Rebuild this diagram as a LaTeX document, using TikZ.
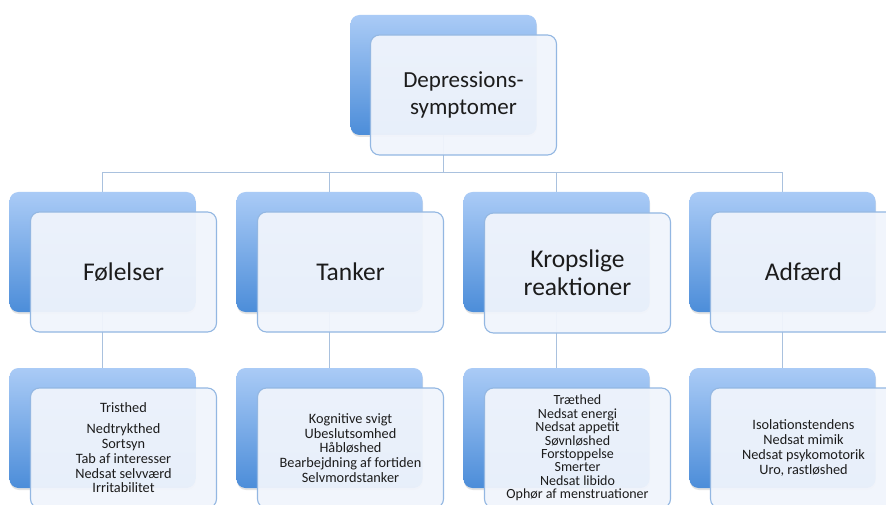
\documentclass[tikz,border=0pt]{standalone}
\usepackage{fontspec}
\setmainfont{Carlito}
\usetikzlibrary{shadows}
\definecolor{backtop}{HTML}{AACBF6}
\definecolor{backbot}{HTML}{4C8DD9}
\definecolor{frontfill}{HTML}{F1F5FC}
\definecolor{frontline}{HTML}{93B7E2}
\definecolor{connline}{HTML}{A9C1DE}
\definecolor{txt}{HTML}{1C1C1C}
\tikzset{
  backbox/.style={rounded corners=9pt, minimum width=186pt, minimum height=120pt,
    top color=backtop, bottom color=backbot, draw=none,
    drop shadow={opacity=0.22, shadow xshift=0.5pt, shadow yshift=-2pt}},
  frontbox/.style={rounded corners=9pt, minimum width=186pt, minimum height=120pt,
    draw=frontline, line width=1.1pt, fill=frontfill, fill opacity=0.94,
    text opacity=1, text=txt, align=center, inner sep=0pt},
  roottext/.style={font=\fontsize{23}{27}\selectfont},
  headtext/.style={font=\fontsize{25.5}{28}\selectfont},
  listtext/.style={font=\fontsize{14.3}{14.8}\selectfont},
  conn/.style={draw=connline, line width=1pt}
}
\begin{document}
\begin{tikzpicture}[x=1pt, y=-1pt]
  \useasboundingbox (0,0) rectangle (886,505);
  \clip (0,0) rectangle (886,505);
  \fill[white] (0,0) rectangle (886,505);

  % hub of the tree
  \coordinate (hub) at (443.5,173);

  % connectors (drawn first, seen faintly through the front panels)
  \coordinate (topC) at (443.5,75);
  \coordinate (c1) at (102.5,252);
  \coordinate (c2) at (329.5,252);
  \coordinate (c3) at (556.5,252);
  \coordinate (c4) at (782.5,252);
  \coordinate (d1) at (102.5,428);
  \coordinate (d2) at (329.5,428);
  \coordinate (d3) at (556.5,428);
  \coordinate (d4) at (782.5,428);
  \draw[conn] (topC) -- (hub);
  \foreach \k in {1,2,3,4} {
    \draw[conn] (hub) -| (c\k);
    \draw[conn] (c\k) -- (d\k);
  }

  % root
  \node[backbox] (topB) at (topC) {};
  \node[frontbox, roottext] (top) at (463.5,95) {Depressions-\\symptomer};

  % categories
  \node[backbox] (b1) at (c1) {};
  \node[frontbox, headtext] (f1) at (123.5,272) {Følelser};
  \node[backbox] (b2) at (c2) {};
  \node[frontbox, headtext] (f2) at (350.5,272) {Tanker};
  \node[backbox] (b3) at (c3) {};
  \node[frontbox, headtext] (f3) at (577.5,273) {Kropslige\\reaktioner};
  \node[backbox] (b4) at (c4) {};
  \node[frontbox, headtext] (f4) at (803.5,272) {Adfærd};

  % symptom lists
  \node[backbox] (lb1) at (d1) {};
  \node[frontbox, listtext] (l1) at (123.5,448) {Tristhed\\[6pt]Nedtrykthed\\Sortsyn\\Tab af interesser\\Nedsat selvværd\\Irritabilitet};
  \node[backbox] (lb2) at (d2) {};
  \node[frontbox, listtext] (l2) at (350.5,448) {Kognitive svigt\\Ubeslutsomhed\\Håbløshed\\Bearbejdning af fortiden\\Selvmordstanker};
  \node[backbox] (lb3) at (d3) {};
  \node[frontbox, font=\fontsize{14}{13.4}\selectfont] (l3) at (577.5,448) {Træthed\\Nedsat energi\\Nedsat appetit\\Søvnløshed\\Forstoppelse\\Smerter\\Nedsat libido\\Ophør af menstruationer};
  \node[backbox] (lb4) at (d4) {};
  \node[frontbox, listtext] (l4) at (803.5,448) {Isolationstendens\\Nedsat mimik\\Nedsat psykomotorik\\Uro, rastløshed};
\end{tikzpicture}
\end{document}
